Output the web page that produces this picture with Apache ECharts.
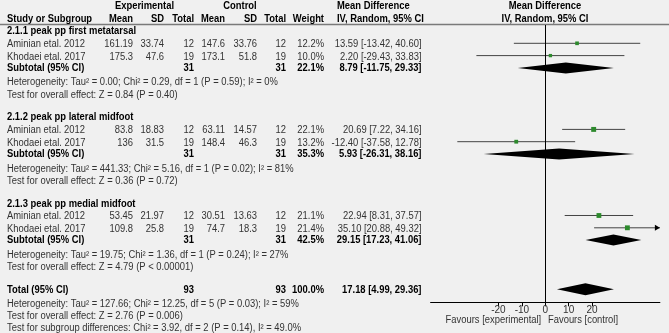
<!DOCTYPE html>
<html>
<head>
<meta charset="utf-8">
<script src="https://cdn.jsdelivr.net/npm/echarts@6/dist/echarts.min.js"></script>
<style>
  html, body { margin: 0; padding: 0; background: #f0f0f0; }
  #main { width: 669px; height: 333px; }
</style>
</head>
<body>
<div id="main"></div>
<script>
// study level data
var studyNames = ["Aminian etal. 2012", "Khodaei etal. 2017", "Aminian etal. 2012", "Khodaei etal. 2017", "Aminian etal. 2012", "Khodaei etal. 2017"];
var studyGroup = [0, 0, 1, 1, 2, 2];
var expMean = [161.19, 175.3, 83.8, 136, 53.45, 109.8];
var expSD = [33.74, 47.6, 18.83, 31.5, 21.97, 25.8];
var expN = [12, 19, 12, 19, 12, 19];
var ctlMean = [147.6, 173.1, 63.11, 148.4, 30.51, 74.7];
var ctlSD = [33.76, 51.8, 14.57, 46.3, 13.63, 18.3];
var ctlN = [12, 19, 12, 19, 12, 19];
var weights = [12.2, 10.0, 22.1, 13.2, 21.1, 21.4];
var md = [13.59, 2.20, 20.69, -12.40, 22.94, 35.10];
var mdLow = [-13.42, -29.43, 7.22, -37.58, 8.31, 20.88];
var mdHigh = [40.60, 33.83, 34.16, 12.78, 37.57, 49.32];

// subgroup level data
var subgroupNames = ["2.1.1 peak pp first metatarsal", "2.1.2 peak pp lateral midfoot", "2.1.3 peak pp medial midfoot"];
var subExpN = [31, 31, 31];
var subCtlN = [31, 31, 31];
var subWeight = [22.1, 35.3, 42.5];
var subMD = [8.79, 5.93, 29.15];
var subLow = [-11.75, -26.31, 17.23];
var subHigh = [29.33, 38.16, 41.06];
var subHet = [
  "Heterogeneity: Tau\u00b2 = 0.00; Chi\u00b2 = 0.29, df = 1 (P = 0.59); I\u00b2 = 0%",
  "Heterogeneity: Tau\u00b2 = 441.33; Chi\u00b2 = 5.16, df = 1 (P = 0.02); I\u00b2 = 81%",
  "Heterogeneity: Tau\u00b2 = 19.75; Chi\u00b2 = 1.36, df = 1 (P = 0.24); I\u00b2 = 27%"
];
var subTest = [
  "Test for overall effect: Z = 0.84 (P = 0.40)",
  "Test for overall effect: Z = 0.36 (P = 0.72)",
  "Test for overall effect: Z = 4.79 (P < 0.00001)"
];

// overall
var totalExpN = 93;
var totalCtlN = 93;
var totalWeight = 100.0;
var totalMD = 17.18;
var totalLow = 4.99;
var totalHigh = 29.36;
var totalHet = "Heterogeneity: Tau\u00b2 = 127.66; Chi\u00b2 = 12.25, df = 5 (P = 0.03); I\u00b2 = 59%";
var totalTest = "Test for overall effect: Z = 2.76 (P = 0.006)";
var subgroupDiff = "Test for subgroup differences: Chi\u00b2 = 3.92, df = 2 (P = 0.14), I\u00b2 = 49.0%";

var xTicks = [-20, -10, 0, 10, 20];
var xMin = -49, xMax = 49;

// column anchors (pixels)
var col = { name: 7, expMean: 133, expSD: 164, expN: 194, ctlMean: 225, ctlSD: 257, ctlN: 286, weight: 324, ci: 421.5 };
var FONT = '"Liberation Sans", Arial, sans-serif';
var SX = 0.94; // reference text is a little narrow

function ciText(m, l, h) {
  return m.toFixed(2) + " [" + l.toFixed(2) + ", " + h.toFixed(2) + "]";
}

function txt(x, y, text, align, bold, size, color) {
  return { type: "text", x: x, y: y, scaleX: SX, silent: true,
    style: { text: text, align: align, verticalAlign: "middle",
      font: (bold ? "bold " : "") + (size || 10) + "px " + FONT,
      fill: color || (bold ? "#000" : "#333") } };
}

// build rows of the table, row index = y value
var tableRows = [];
var studyPts = [];
var diamonds = [];
subgroupNames.forEach(function (name, g) {
  var base = g * 7;
  tableRows.push({ r: base + 0.05, bold: true, cells: [[col.name, name, "left"]] });
  var k = 1;
  studyNames.forEach(function (s, i) {
    if (studyGroup[i] !== g) return;
    var r = base + k++;
    tableRows.push({ r: r + 0.1, bold: false, cells: [
      [col.name, s, "left"],
      [col.expMean, String(expMean[i]), "right"],
      [col.expSD, String(expSD[i]), "right"],
      [col.expN, String(expN[i]), "right"],
      [col.ctlMean, String(ctlMean[i]), "right"],
      [col.ctlSD, String(ctlSD[i]), "right"],
      [col.ctlN, String(ctlN[i]), "right"],
      [col.weight, weights[i].toFixed(1) + "%", "right"],
      [col.ci, ciText(md[i], mdLow[i], mdHigh[i]), "right"]
    ]});
    studyPts.push([md[i], r, weights[i], mdLow[i], mdHigh[i]]);
  });
  tableRows.push({ r: base + 3, bold: true, cells: [
    [col.name, "Subtotal (95% CI)", "left"],
    [col.expN, String(subExpN[g]), "right"],
    [col.ctlN, String(subCtlN[g]), "right"],
    [col.weight, subWeight[g].toFixed(1) + "%", "right"],
    [col.ci, ciText(subMD[g], subLow[g], subHigh[g]), "right"]
  ]});
  diamonds.push([subMD[g], base + 3, subLow[g], subHigh[g]]);
  tableRows.push({ r: base + 4.2, bold: false, cells: [[col.name, subHet[g], "left"]] });
  tableRows.push({ r: base + 5.2, bold: false, cells: [[col.name, subTest[g], "left"]] });
});
tableRows.push({ r: 21.05, bold: true, cells: [
  [col.name, "Total (95% CI)", "left"],
  [col.expN, String(totalExpN), "right"],
  [col.ctlN, String(totalCtlN), "right"],
  [col.weight, totalWeight.toFixed(1) + "%", "right"],
  [col.ci, ciText(totalMD, totalLow, totalHigh), "right"]
]});
diamonds.push([totalMD, 21, totalLow, totalHigh]);
tableRows.push({ r: 22.2, bold: false, cells: [[col.name, totalHet, "left"]] });
tableRows.push({ r: 23.2, bold: false, cells: [[col.name, totalTest, "left"]] });
tableRows.push({ r: 24.2, bold: false, cells: [[col.name, subgroupDiff, "left"]] });

var chart = echarts.init(document.getElementById("main"));

chart.setOption({
  backgroundColor: "#f0f0f0",
  animation: false,
  grid: { left: 430.6, right: 9.1, top: 25, bottom: 30.7 },
  xAxis: {
    type: "value", min: xMin, max: xMax,
    axisLine: { onZero: false, lineStyle: { color: "#000", width: 1 } },
    axisTick: { customValues: xTicks, length: 4, lineStyle: { color: "#000" } },
    axisLabel: { customValues: xTicks, margin: 3, fontSize: 10, color: "#333", fontFamily: FONT },
    splitLine: { show: false }
  },
  yAxis: { type: "value", inverse: true, min: -0.4878, max: 22.057, show: false },
  graphic: [
    { type: "line", silent: true, shape: { x1: 0, y1: 24.5, x2: 669, y2: 24.5 }, style: { stroke: "#7a7a7a", lineWidth: 1.6 } },
    txt(144.5, 6.7, "Experimental", "center", true),
    txt(240, 6.7, "Control", "center", true),
    txt(337, 6.7, "Mean Difference", "left", true),
    txt(545, 6.7, "Mean Difference", "center", true),
    txt(col.name, 18.8, "Study or Subgroup", "left", true),
    txt(col.expMean, 18.8, "Mean", "right", true),
    txt(col.expSD, 18.8, "SD", "right", true),
    txt(col.expN, 18.8, "Total", "right", true),
    txt(col.ctlMean, 18.8, "Mean", "right", true),
    txt(col.ctlSD, 18.8, "SD", "right", true),
    txt(col.ctlN, 18.8, "Total", "right", true),
    txt(col.weight, 18.8, "Weight", "right", true),
    txt(337, 18.8, "IV, Random, 95% CI", "left", true),
    txt(545, 18.8, "IV, Random, 95% CI", "center", true),
    txt(493.4, 320.5, "Favours [experimental]", "center", false),
    txt(583, 320.5, "Favours [control]", "center", false)
  ],
  series: [
    {
      // table text
      type: "custom",
      clip: false,
      silent: true,
      data: tableRows.map(function (row) { return [0, row.r]; }),
      renderItem: function (params, api) {
        var row = tableRows[params.dataIndex];
        var y = api.coord([0, api.value(1)])[1];
        return {
          type: "group",
          children: row.cells.map(function (c) {
            return txt(c[0], y, c[1], c[2], row.bold);
          })
        };
      }
    },
    {
      // confidence intervals of each study
      type: "custom",
      clip: false,
      silent: true,
      data: studyPts,
      encode: { x: 0, y: 1 },
      renderItem: function (params, api) {
        var r = api.value(1);
        var lo = Math.max(api.value(3), xMin);
        var hi = Math.min(api.value(4), xMax);
        var p1 = api.coord([lo, r]);
        var p2 = api.coord([hi, r]);
        var kids = [{ type: "line", shape: { x1: p1[0], y1: p1[1], x2: p2[0], y2: p2[1] },
          style: { stroke: "#444", lineWidth: 1 } }];
        if (api.value(4) > xMax) {
          kids.push({ type: "polygon", shape: { points: [[p2[0], p2[1]], [p2[0] - 5, p2[1] - 3], [p2[0] - 5, p2[1] + 3]] },
            style: { fill: "#000" } });
        }
        if (api.value(3) < xMin) {
          kids.push({ type: "polygon", shape: { points: [[p1[0], p1[1]], [p1[0] + 5, p1[1] - 3], [p1[0] + 5, p1[1] + 3]] },
            style: { fill: "#000" } });
        }
        return { type: "group", children: kids };
      },
      markLine: {
        silent: true,
        symbol: "none",
        label: { show: false },
        lineStyle: { color: "#000", width: 1, type: "solid" },
        data: [{ xAxis: 0 }]
      }
    },
    {
      // study estimates, size from weight
      type: "scatter",
      silent: true,
      data: studyPts,
      symbol: "rect",
      symbolSize: function (v) { return Math.sqrt(v[2]) * 1.05; },
      itemStyle: { color: "#2d8a2d", opacity: 1 }
    },
    {
      // pooled diamonds
      type: "custom",
      clip: false,
      silent: true,
      data: diamonds,
      encode: { x: 0, y: 1 },
      renderItem: function (params, api) {
        var r = api.value(1);
        var c = api.coord([api.value(0), r]);
        var l = api.coord([api.value(2), r]);
        var h = api.coord([api.value(3), r]);
        var hh = r === 21 ? 6 : 5.5;
        return { type: "polygon",
          shape: { points: [[l[0], c[1]], [c[0], c[1] - hh], [h[0], c[1]], [c[0], c[1] + hh]] },
          style: { fill: "#000" } };
      }
    }
  ]
});
</script>
</body>
</html>
